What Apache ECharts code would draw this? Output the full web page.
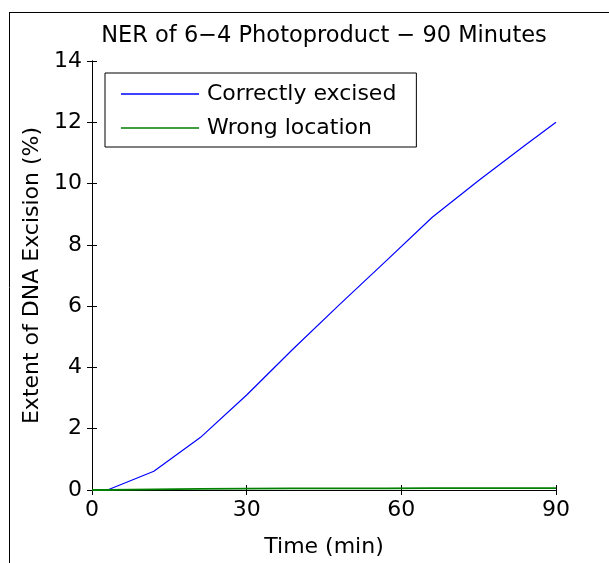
<!DOCTYPE html>
<html>
<head>
<meta charset="utf-8">
<script src="https://cdn.jsdelivr.net/npm/echarts@6/dist/echarts.min.js"></script>
<style>
  html, body { margin: 0; padding: 0; background: #fff; }
  #chart { width: 609px; height: 563px; }
</style>
</head>
<body>
<div id="chart"></div>
<script>
// time points (min) and excision extent (%)
const times = [0, 3, 12, 21, 30, 39, 48, 57, 66, 75, 84, 90]
const correctlyExcised = [0, 0, 0.61, 1.71, 3.1, 4.6, 6.05, 7.47, 8.9, 10.1, 11.25, 12.0]
const wrongLocation = [0, 0, 0.02, 0.035, 0.045, 0.05, 0.055, 0.055, 0.06, 0.06, 0.06, 0.06]
const seriesNames = ['Correctly excised', 'Wrong location']

const font = 'DejaVu Sans, Liberation Sans, Arial, sans-serif'
const fs = 22
const chart = echarts.init(document.getElementById('chart'))

const toPairs = (xs, ys) => xs.map((x, i) => [x, ys[i]])

const mirrorAxis = {
  show: true,
  axisLine: { show: true, lineStyle: { color: '#000', width: 1 } },
  axisTick: { show: true, inside: true, length: 5, lineStyle: { color: '#000' } },
  axisLabel: { show: false },
  splitLine: { show: false }
}

chart.setOption({
  animation: false,
  backgroundColor: '#fff',
  textStyle: { fontFamily: font },
  title: {
    text: 'NER of 6\u22124 Photoproduct \u2212 90 Minutes',
    left: 319,
    textAlign: 'center',
    top: 20,
    textStyle: { fontFamily: font, fontSize: 22.5, fontWeight: 'normal', color: '#000' }
  },
  legend: {
    orient: 'vertical',
    left: 105,
    top: 73,
    padding: [10, 20, 8, 16],
    icon: 'rect',
    itemWidth: 78,
    itemHeight: 1.5,
    itemGap: 12,
    backgroundColor: '#fff',
    borderColor: '#000',
    borderWidth: 1,
    data: seriesNames,
    textStyle: { fontFamily: font, fontSize: fs, lineHeight: 22, color: '#000', padding: [0, 0, 0, 3] }
  },
  grid: { left: 92, right: 53, top: 61, bottom: 71, containLabel: false },
  xAxis: [
    {
      type: 'value',
      min: 0,
      max: 90,
      interval: 30,
      name: 'Time (min)',
      nameLocation: 'middle',
      nameGap: 46,
      nameTextStyle: { fontFamily: font, fontSize: fs, color: '#000' },
      axisLine: { show: true, onZero: false, lineStyle: { color: '#000', width: 1 } },
      axisTick: { show: true, inside: true, length: 5, lineStyle: { color: '#000' } },
      axisLabel: { fontFamily: font, fontSize: fs, color: '#000', margin: 9 },
      splitLine: { show: false }
    },
    Object.assign({ type: 'value', min: 0, max: 90, interval: 30, position: 'top' }, mirrorAxis)
  ],
  yAxis: [
    {
      type: 'value',
      min: 0,
      max: 14,
      interval: 2,
      name: 'Extent of DNA Excision (%)',
      nameLocation: 'middle',
      nameGap: 48,
      nameTextStyle: { fontFamily: font, fontSize: fs, color: '#000' },
      axisLine: { show: true, onZero: false, lineStyle: { color: '#000', width: 1 } },
      axisTick: { show: true, inside: true, length: 5, lineStyle: { color: '#000' } },
      axisLabel: { fontFamily: font, fontSize: fs, color: '#000', margin: 10 },
      splitLine: { show: false }
    },
    Object.assign({ type: 'value', min: 0, max: 14, interval: 2, position: 'right' }, mirrorAxis)
  ],
  graphic: [
    { type: 'line', shape: { x1: 9, y1: 12.5, x2: 609, y2: 12.5 }, style: { stroke: '#000', lineWidth: 1 } },
    { type: 'line', shape: { x1: 9.5, y1: 12, x2: 9.5, y2: 563 }, style: { stroke: '#000', lineWidth: 1 } }
  ],
  series: [
    {
      name: seriesNames[0],
      type: 'line',
      data: toPairs(times, correctlyExcised),
      symbol: 'none',
      color: '#0000ff',
      lineStyle: { color: '#0000ff', width: 1.2 }
    },
    {
      name: seriesNames[1],
      type: 'line',
      data: toPairs(times, wrongLocation),
      symbol: 'none',
      color: '#008000',
      lineStyle: { color: '#008000', width: 1.8 }
    }
  ]
})
</script>
</body>
</html>
